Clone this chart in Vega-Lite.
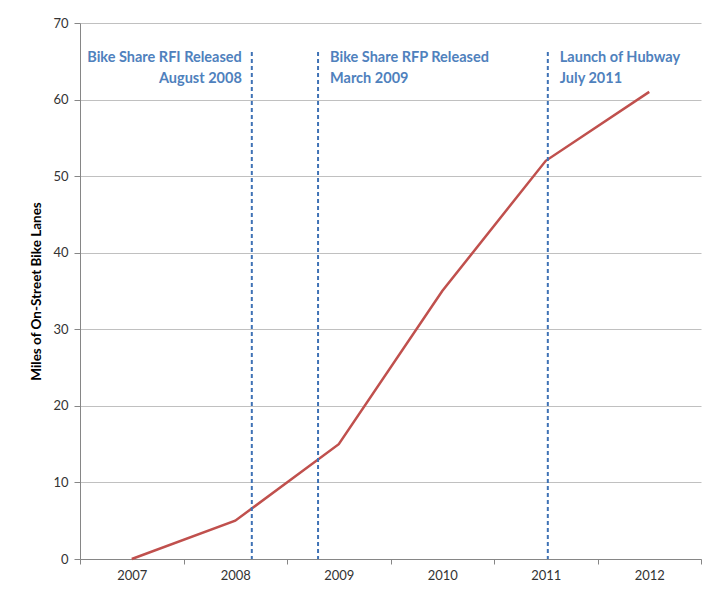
{
  "$schema": "https://vega.github.io/schema/vega-lite/v6.json",
  "width": 621,
  "height": 536,
  "autosize": "none",
  "padding": {"left": 80, "top": 23, "right": 15, "bottom": 32},
  "background": "white",
  "config": {
    "view": {"stroke": null},
    "font": "Lato",
    "axis": {"labelFont": "Lato", "titleFont": "Lato"}
  },
  "datasets": {
    "lanes": [
      {"year": 2007, "miles": 0},
      {"year": 2008, "miles": 5},
      {"year": 2009, "miles": 15},
      {"year": 2010, "miles": 35},
      {"year": 2011, "miles": 52},
      {"year": 2012, "miles": 61}
    ],
    "events": [
      {"event": "Bike Share RFI Released", "date": "August 2008", "when": 2008.16},
      {"event": "Bike Share RFP Released", "date": "March 2009", "when": 2008.8},
      {"event": "Launch of Hubway", "date": "July 2011", "when": 2011.02}
    ]
  },
  "layer": [
    {
      "data": {"name": "lanes"},
      "mark": {"type": "line", "color": "#C0504D", "strokeWidth": 2.5},
      "encoding": {
        "x": {
          "field": "year", "type": "quantitative",
          "scale": {"domain": [2006.5, 2012.5], "nice": false, "zero": false},
          "axis": {
            "title": null,
            "values": [2006.5, 2007.5, 2008.5, 2009.5, 2010.5, 2011.5, 2012.5],
            "labelExpr": "datum.value < 2012 ? toString(datum.value + 0.5) : ''",
            "labelOffset": 51.75,
            "labelOverlap": false,
            "labelBound": false,
            "labelFlush": false,
            "grid": false,
            "domainColor": "#868686",
            "tickColor": "#868686",
            "tickSize": 5,
            "labelPadding": 5,
            "labelFontSize": 13,
            "labelColor": "#333333"
          }
        },
        "y": {
          "field": "miles", "type": "quantitative",
          "scale": {"domain": [0, 70], "nice": false},
          "axis": {
            "title": "Miles of On-Street Bike Lanes",
            "titleFontSize": 13.5,
            "titleFontWeight": "bold",
            "titleColor": "#000000",
            "titlePadding": 9,
            "values": [0, 10, 20, 30, 40, 50, 60, 70],
            "grid": true,
            "gridColor": "#C0C0C0",
            "domainColor": "#868686",
            "tickColor": "#868686",
            "tickSize": 6,
            "labelPadding": 6,
            "labelFontSize": 13,
            "labelColor": "#333333"
          }
        }
      }
    },
    {
      "data": {"name": "events"},
      "mark": {"type": "rule", "color": "#3F72B5", "strokeWidth": 2, "strokeDash": [4, 3]},
      "encoding": {
        "x": {"field": "when", "type": "quantitative"},
        "y": {"datum": 66.2},
        "y2": {"datum": 0}
      }
    },
    {
      "data": {"name": "events"},
      "transform": [
        {"filter": "datum.event === 'Bike Share RFI Released'"},
        {"calculate": "[datum.event, datum.date]", "as": "label"}
      ],
      "mark": {"type": "text", "align": "right", "baseline": "top", "dx": -10, "dy": -1, "color": "#4F81BD", "fontWeight": "bold", "fontSize": 14.5, "lineHeight": 21},
      "encoding": {
        "x": {"field": "when", "type": "quantitative"},
        "y": {"datum": 66.2},
        "text": {"field": "label"}
      }
    },
    {
      "data": {"name": "events"},
      "transform": [
        {"filter": "datum.event !== 'Bike Share RFI Released'"},
        {"calculate": "[datum.event, datum.date]", "as": "label"}
      ],
      "mark": {"type": "text", "align": "left", "baseline": "top", "dx": 12, "dy": -1, "color": "#4F81BD", "fontWeight": "bold", "fontSize": 14.5, "lineHeight": 21},
      "encoding": {
        "x": {"field": "when", "type": "quantitative"},
        "y": {"datum": 66.2},
        "text": {"field": "label"}
      }
    }
  ]
}
